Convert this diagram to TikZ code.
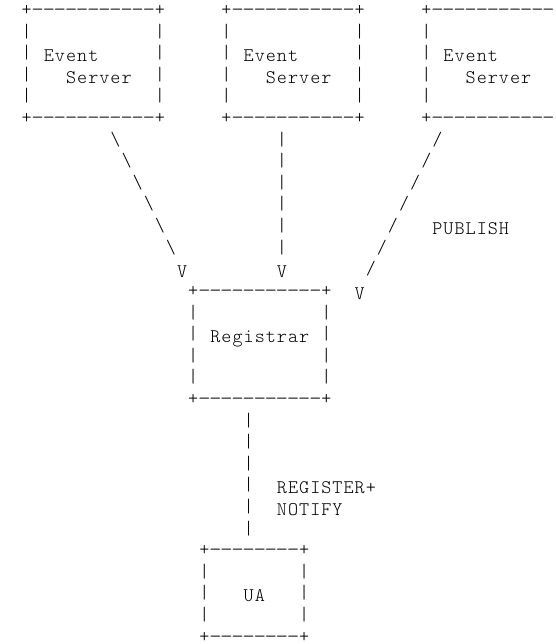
\documentclass[tikz,border=0pt]{standalone}
\usepackage{graphicx}

% one character per 11.1pt cell, centred in it; hyphens drawn a little wider
\newcommand\spread[1]{\spreadloop#1\relax}
\def\spreadloop#1{\ifx\relax#1\else
  \hbox to 11.1pt{\hss\ifx-#1\scalebox{1.25}[1]{-}\else#1\fi\hss}%
  \expandafter\spreadloop\fi}
\newcommand\gridfont{\fontseries{l}\ttfamily\fontsize{19.2}{21.6}\selectfont}

\tikzset{
  cell/.style={anchor=base west, inner sep=0pt, outer sep=0pt, font=\gridfont, text=black},
  % rules and bars: the middle of a "+" on the row line
  sym/.style={cell, yshift=-4.2pt},
  % words: capitals centred just under the row line
  word/.style={cell, yshift=-6.9pt},
}
% text placed in cell (column, row) of the character grid
\newcommand\symat[4]{\node[sym] (#1) at ({21.15+11.1*(#2)},{-11.4-21.6*(#3)}) {\spread{#4}};}
\newcommand\wordat[4]{\node[word] (#1) at ({21.15+11.1*(#2)},{-11.4-21.6*(#3)}) {\spread{#4}};}

\begin{document}
\begin{tikzpicture}[x=1pt,y=1pt]
\useasboundingbox (0,0) rectangle (555,-644);

% event servers
\foreach \i/\c in {1/0,2/18}{
  \symat{srv\i-top}{\c}{0}{+-----------+}
  \symat{srv\i-bot}{\c}{5}{+-----------+}
  \foreach \r in {1,...,4}{\symat{srv\i-l\r}{\c}{\r}{|}\symat{srv\i-r\r}{\c+12}{\r}{|}}
  \wordat{srv\i-ev}{\c+2}{2}{Event}
  \wordat{srv\i-sv}{\c+4}{3}{Server}
}
\symat{srv3-top}{36}{0}{+-----------}
\symat{srv3-bot}{36}{5}{+-----------}
\foreach \r in {1,...,4}{\symat{srv3-l\r}{36}{\r}{|}}
\wordat{srv3-ev}{38}{2}{Event}
\wordat{srv3-sv}{40}{3}{Server}

% publish paths into the registrar
\foreach \k in {0,...,5}{\symat{bs\k}{8+\k}{6+\k}{\textbackslash}}
\wordat{v1}{14}{12}{V}
\foreach \k in {0,...,5}{\symat{vb\k}{23}{6+\k}{|}}
\wordat{v2}{23}{12}{V}
\foreach \k in {0,...,6}{\symat{fs\k}{37-\k}{6+\k}{/}}
\wordat{v3}{30}{13}{V}
\wordat{pub}{37}{10}{PUBLISH}

% registrar
\symat{reg-top}{15}{13}{+-----------+}
\symat{reg-bot}{15}{18}{+-----------+}
\foreach \r in {14,...,17}{\symat{reg-l\r}{15}{\r}{|}\symat{reg-r\r}{27}{\r}{|}}
\wordat{reg}{17}{15}{Registrar}

% register / notify link
\foreach \r in {19,...,24}{\symat{ln\r}{20}{\r}{|}}
\wordat{lab1}{23}{22}{REGISTER+}
\wordat{lab2}{23}{23}{NOTIFY}

% user agent
\symat{ua-top}{16}{25}{+--------+}
\symat{ua-bot}{16}{29}{+--------+}
\foreach \r in {26,27,28}{\symat{ua-l\r}{16}{\r}{|}\symat{ua-r\r}{25}{\r}{|}}
\wordat{ua}{20}{27}{UA}
\end{tikzpicture}
\end{document}
